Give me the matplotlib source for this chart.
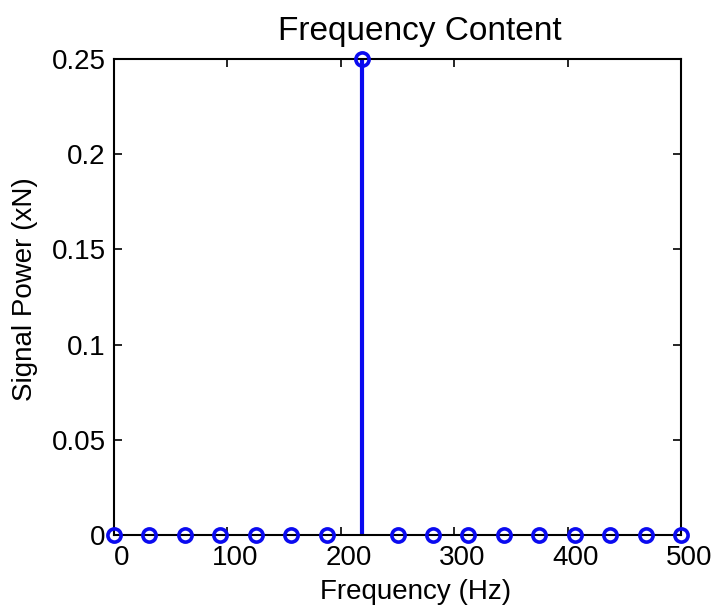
import numpy as np
import matplotlib
matplotlib.use("Agg")
from matplotlib import pyplot as plt
from matplotlib import transforms

# ------------------------------------------------------------------------------
# Data
# ------------------------------------------------------------------------------
freq = [0, 31.25, 62.5, 93.75, 125, 156.25, 187.5, 218.75, 250,
        281.25, 312.5, 343.75, 375, 406.25, 437.5, 468.75, 500]
power = [0, 0, 0, 0, 0, 0, 0, 0.25, 0, 0, 0, 0, 0, 0, 0, 0, 0]
xticks = [0, 100, 200, 300, 400, 500]
yticks = [0, 0.05, 0.1, 0.15, 0.2, 0.25]
ytick_labels = ['0', '0.05', '0.1', '0.15', '0.2', '0.25']

# ------------------------------------------------------------------------------
# Plot characteristics
# ------------------------------------------------------------------------------
plt.rcParams['font.family'] = ['Liberation Sans', 'DejaVu Sans']
plt.rcParams['font.size'] = 20

fig = plt.figure(figsize=(7.15, 6.08), dpi=100)
ax = fig.add_axes([114/715, 1 - 535/608, (681 - 114)/715, (535 - 59)/608])

markerline, stemlines, baseline = ax.stem(freq, power, linefmt='b-', markerfmt='bo', basefmt='k-')
plt.setp(stemlines, linewidth=3, color='#0a0af0')
plt.setp(markerline, markersize=9.5, markerfacecolor='none', markeredgecolor='#0a0af0',
         markeredgewidth=2.6, zorder=5, clip_on=False)
plt.setp(baseline, linewidth=1.2, color='black')

ax.set_xlim(0, 500)
ax.set_ylim(0, 0.25)
ax.set_xticks(xticks)
ax.set_yticks(yticks)
ax.set_yticklabels(ytick_labels)
ax.tick_params(direction='in', top=True, right=True, length=6, width=1.2)
ax.tick_params(axis='x', pad=7)
ax.tick_params(axis='y', pad=6)
for sp in ax.spines.values():
    sp.set_linewidth(1.5)

# the x tick labels sit a bit right of their ticks in the original
shift = transforms.ScaledTranslation(8/100, 0, fig.dpi_scale_trans)
for lab in ax.xaxis.get_majorticklabels():
    lab.set_transform(lab.get_transform() + shift)

ax.set_xlabel("Frequency (Hz)", labelpad=6, x=(416 - 114)/567)
ax.set_ylabel("Signal Power (xN)", labelpad=10, y=(535 - 289)/476)
ax.set_title("Frequency Content", pad=14, x=(420 - 114)/567)

fig.savefig('out.png', dpi=100)
